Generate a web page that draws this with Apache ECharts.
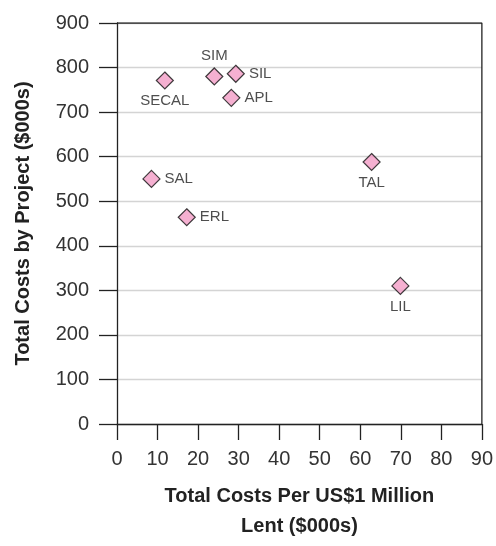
<!DOCTYPE html>
<html><head><meta charset="utf-8">
<script src="https://cdn.jsdelivr.net/npm/echarts@6/dist/echarts.min.js"></script>
<style>html,body{margin:0;padding:0;background:#fff;overflow:hidden;}#c{width:496px;height:546px;}</style>
</head><body><div id="c"></div>
<script>
var names = ['SECAL','SIM','SIL','APL','TAL','SAL','ERL','LIL'];
var costPerMillion = [11.8, 24.0, 29.3, 28.2, 62.8, 8.5, 17.2, 69.9];
var costByProject = [771, 780, 786, 732, 588, 550, 464, 310];
var labelPos = ['bottom','top','right','right','bottom','right','right','bottom'];
var xTicks = [0,10,20,30,40,50,60,70,80,90];
var yTicks = [0,100,200,300,400,500,600,700,800,900];

var FONT = '"Liberation Sans", Arial, sans-serif';
var data = names.map(function(n,i){
  return {name:n, value:[costPerMillion[i], costByProject[i]],
    label:{position:labelPos[i]}};
});
var chart = echarts.init(document.getElementById('c'));
chart.setOption({
  animation:false,
  grid:{left:117, right:12, top:23, bottom:111, containLabel:false, show:false},
  xAxis:{type:'value', min:xTicks[0], max:xTicks[xTicks.length-1], interval:10,
    axisLine:{show:true, onZero:false, lineStyle:{color:'#222', width:1.3}},
    axisTick:{show:true, length:16, lineStyle:{color:'#222', width:1.3}},
    axisLabel:{margin:25, color:'#333', fontFamily:FONT, fontSize:20},
    splitLine:{show:false},
    name:'Total Costs Per US$1 Million\nLent ($000s)', nameLocation:'middle', nameGap:57,
    nameTextStyle:{fontFamily:FONT, fontWeight:'bold', fontSize:20, color:'#222', lineHeight:30}
  },
  yAxis:{type:'value', min:yTicks[0], max:yTicks[yTicks.length-1], interval:100,
    axisLine:{show:true, onZero:false, lineStyle:{color:'#222', width:1.3}},
    axisTick:{show:true, length:18, lineStyle:{color:'#222', width:1.3}},
    axisLabel:{margin:28, color:'#333', fontFamily:FONT, fontSize:20},
    splitLine:{show:true, lineStyle:{color:'#d4d4d4', width:1.3}},
    name:'Total Costs by Project ($000s)', nameLocation:'middle', nameGap:84,
    nameTextStyle:{fontFamily:FONT, fontWeight:'bold', fontSize:20, color:'#222'}
  },
  series:[
    {type:'line', data:[[0,900],[90,900],[90,0]], symbol:'none', silent:true,
     lineStyle:{color:'#222', width:1.3}, z:1},
    {type:'scatter', symbol:'diamond', symbolSize:17, data:data, z:3,
     itemStyle:{color:'#F29CC6', borderColor:'#111', borderWidth:1.2},
     label:{show:true, formatter:'{b}', fontFamily:FONT, fontSize:15, color:'#222', distance:4}
    }
  ]
});
</script></body></html>
